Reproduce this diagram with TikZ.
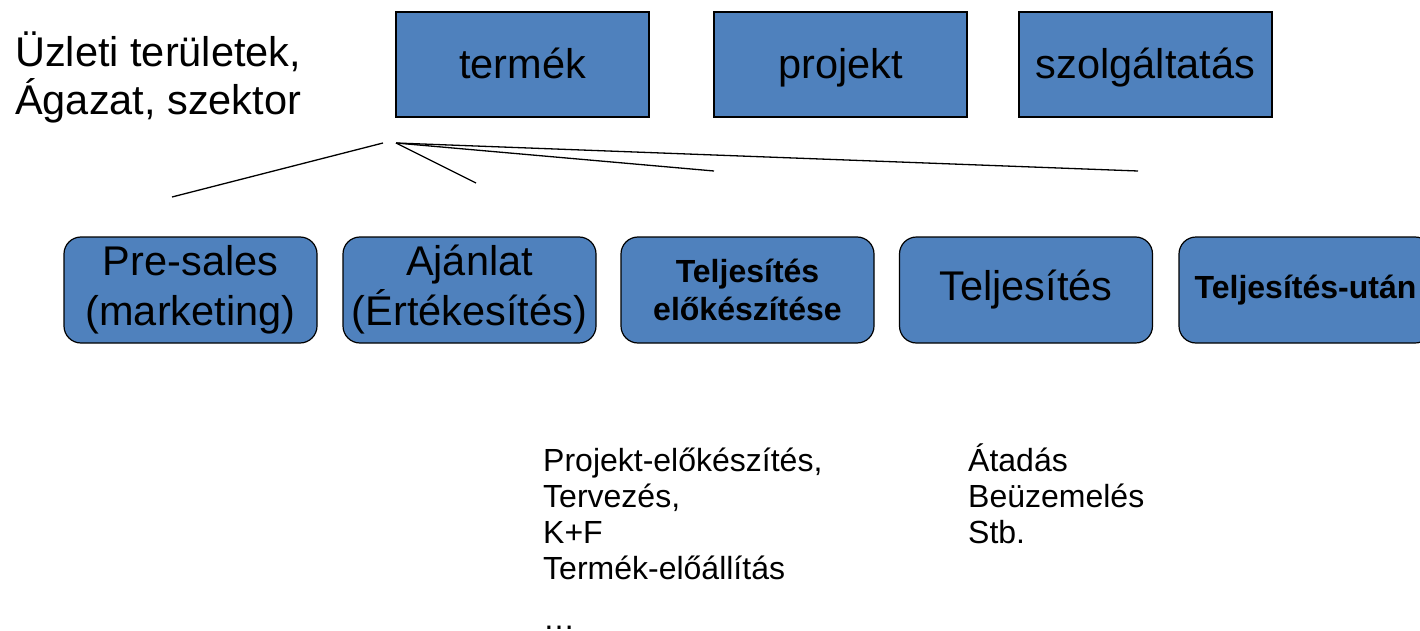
\documentclass[tikz,border=0pt]{standalone}
\usepackage{fontspec}
\setmainfont{Liberation Sans}
\usepackage{xcolor}
\usepackage{tikz}
\usetikzlibrary{calc}
\usetikzlibrary{positioning}
\definecolor{boxblue}{HTML}{4F81BD}
\tikzset{>=latex}
\tikzstyle{area} = [draw = black, fill = boxblue, line width = 1.2pt, rectangle, minimum width = 253pt, minimum height = 105pt, inner sep = 0, text height = 37pt, text depth = 8pt, font = \fontsize{41.5}{50}\selectfont]
\tikzstyle{phase} = [draw = black, fill = boxblue, line width = 1.2pt, rounded corners = 17pt, minimum width = 253pt, minimum height = 106pt, inner sep = 0, align = center, font = \fontsize{41.5}{50}\selectfont]
\tikzstyle{phasebold} = [phase, font = \fontsize{32}{38}\selectfont\bfseries]
\tikzstyle{steps} = [draw = none, inner sep = 0, anchor = base west, align = left, font = \fontsize{32}{36}\selectfont]
\tikzstyle{link} = [-, draw = black, line width = 1.3pt]

\begin{document}
\begin{tikzpicture}[x = 1pt, y = -1pt]
\useasboundingbox (0, 0) rectangle (1420, 631);
% business areas (base = last line)
\node [draw=none, inner sep = 0, anchor = base west, align = left, font = \fontsize{41.5}{48}\selectfont] (uzlet) at (15, 115) {Üzleti területek,\\Ágazat, szektor};
\node [area] (termek) at (522.5, 64.5) {termék};
\node [area] (projekt) at (840.5, 64.5) {projekt};
\node [area] (szolg) at (1145.5, 64.5) {szolgáltatás};

% fan of lines
\coordinate (forkL) at (383, 143);
\coordinate (fork) at (396, 143);
\coordinate (endA) at (172, 197);
\coordinate (endB) at (476, 183);
\coordinate (endC) at (714, 171);
\coordinate (endD) at (1138, 171);
\draw [link] (forkL) to (endA);
\draw [link] (fork) to (endB);
\draw [link] (fork) to (endC);
\draw [link] (fork) to (endD);

% phases
\node [phase] (presales) at (190.5, 290) {Pre-sales\\(marketing)};
\node [phase] (ajanlat) at (469.5, 290) {Ajánlat\\(Értékesítés)};
\node [phasebold] (elokesz) at (747.5, 290) {Teljesítés\\előkészítése};
\node [phase] (teljes) at (1026, 290) {Teljesítés};
\node [phasebold] (utan) at (1305.5, 290) {Teljesítés-után};

% details
\node [steps] (lista) at (543, 629) {Projekt-előkészítés,\\Tervezés,\\K+F\\Termék-előállítás\\[14pt]…};
\node [steps] (listb) at (968, 543) {Átadás\\Beüzemelés\\Stb.};
\end{tikzpicture}
\end{document}
